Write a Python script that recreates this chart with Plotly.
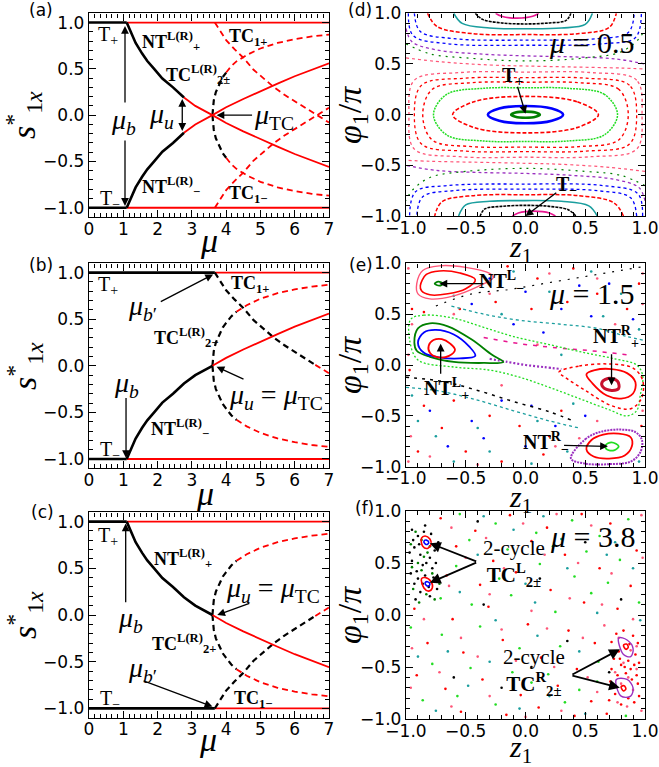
import plotly.graph_objects as go

# ---------------- bifurcation diagrams (panels a-c) ----------------
mu_T = [0.0, 1.10, 3.67, 7.0]
s_Tp = [1.0, 1.0, 1.0, 1.0]
s_Tm = [-1.0, -1.0, -1.0, -1.0]

mu_NT = [1.10, 1.17, 1.26, 1.36, 1.55, 1.70, 1.90, 2.14, 2.45, 2.77, 3.10, 3.60,
         4.00, 4.50, 5.00, 5.50, 6.00, 6.50, 7.00]
s_NTp = [1.00, 0.94, 0.87, 0.78, 0.665, 0.585, 0.50, 0.395, 0.30, 0.19, 0.10, 0.00,
         -0.085, -0.175, -0.26, -0.34, -0.42, -0.49, -0.56]
s_NTm = [-1.00, -0.94, -0.87, -0.78, -0.665, -0.585, -0.50, -0.395, -0.30, -0.19, -0.10, 0.00,
         0.085, 0.175, 0.26, 0.34, 0.42, 0.49, 0.56]

mu_TC2 = [3.60, 3.61, 3.64, 3.70, 3.80, 3.90, 4.00, 4.15, 4.30, 4.60, 5.00, 5.50, 6.00, 6.50, 7.00]
s_TC2u = [0.00, 0.08, 0.16, 0.25, 0.34, 0.41, 0.46, 0.53, 0.58, 0.65, 0.72, 0.78, 0.82, 0.85, 0.87]
s_TC2d = [0.00, -0.08, -0.16, -0.25, -0.34, -0.41, -0.46, -0.53, -0.58, -0.65, -0.72, -0.78, -0.82, -0.85, -0.87]

mu_TC1 = [3.67, 3.80, 4.00, 4.25, 4.50, 4.80, 5.10, 5.40, 5.70, 6.00, 6.30, 6.60, 7.00]
s_TC1p = [1.00, 0.92, 0.81, 0.71, 0.62, 0.49, 0.39, 0.30, 0.22, 0.15, 0.08, 0.01, -0.08]
s_TC1m = [-1.00, -0.92, -0.81, -0.71, -0.62, -0.49, -0.39, -0.30, -0.22, -0.15, -0.08, -0.01, 0.08]

mu_ticks = [0, 1, 2, 3, 4, 5, 6, 7]
s_ticks = [-1.0, -0.5, 0.0, 0.5, 1.0]
z_ticks = [-1.0, -0.5, 0.0, 0.5, 1.0]

# ---------------- panel (d): mu = 0.5 ----------------
d_g_z = [0.12, 0.084, 0.0, -0.084, -0.12, -0.084, 0.0, 0.084, 0.12]
d_g_p = [0.0, 0.021, 0.03, 0.021, 0.0, -0.021, -0.03, -0.021, 0.0]
d_b_z = [0.315, 0.22, 0.0, -0.22, -0.315, -0.22, 0.0, 0.22, 0.315]
d_b_p = [0.0, 0.06, 0.085, 0.06, 0.0, -0.06, -0.085, -0.06, 0.0]
d_r_z = [0.61, 0.43, 0.0, -0.43, -0.61, -0.43, 0.0, 0.43, 0.61]
d_r_p = [0.0, 0.128, 0.18, 0.128, 0.0, -0.128, -0.18, -0.128, 0.0]
d_l_z = [0.77, 0.66, 0.35, 0.0, -0.35, -0.66, -0.77, -0.66, -0.35, 0.0, 0.35, 0.66, 0.77]
d_l_p = [0.0, 0.20, 0.26, 0.265, 0.26, 0.20, 0.0, -0.20, -0.26, -0.265, -0.26, -0.20, 0.0]
d_r1_z = [0.86, 0.78, 0.45, 0.0, -0.45, -0.78, -0.86, -0.78, -0.45, 0.0, 0.45, 0.78, 0.86]
d_r1_p = [0.0, 0.25, 0.315, 0.32, 0.315, 0.25, 0.0, -0.25, -0.315, -0.32, -0.315, -0.25, 0.0]
d_r2_z = [0.93, 0.87, 0.50, 0.0, -0.50, -0.87, -0.93, -0.87, -0.50, 0.0, 0.50, 0.87, 0.93]
d_r2_p = [0.0, 0.29, 0.36, 0.365, 0.36, 0.29, 0.0, -0.29, -0.36, -0.365, -0.36, -0.29, 0.0]
d_r3_z = [0.975, 0.93, 0.55, 0.0, -0.55, -0.93, -0.975, -0.93, -0.55, 0.0, 0.55, 0.93, 0.975]
d_r3_p = [0.0, 0.34, 0.415, 0.42, 0.415, 0.34, 0.0, -0.34, -0.415, -0.42, -0.415, -0.34, 0.0]
# arcs around (0, +-1)
d_top_m_z = [-0.25, -0.2, -0.07, 0.06, 0.11]
d_top_m_p = [1.0, 0.97, 0.952, 0.97, 1.0]
d_top_k_z = [-0.42, -0.36, -0.2, 0.0, 0.2, 0.34, 0.38]
d_top_k_p = [1.0, 0.94, 0.905, 0.895, 0.905, 0.93, 1.0]
d_top_c_z = [-0.60, -0.53, -0.3, 0.0, 0.3, 0.5, 0.56]
d_top_c_p = [1.0, 0.90, 0.855, 0.848, 0.855, 0.89, 1.0]
d_top_r_z = [-0.82, -0.74, -0.45, 0.0, 0.45, 0.70, 0.76]
d_top_r_p = [1.0, 0.87, 0.80, 0.79, 0.80, 0.86, 1.0]
d_top_b1_z = [-0.93, -0.88, -0.6, 0.0, 0.6, 0.86, 0.91]
d_top_b1_p = [1.0, 0.82, 0.75, 0.735, 0.75, 0.81, 1.0]
d_top_b2_z = [-0.98, -0.94, -0.65, 0.0, 0.65, 0.92, 0.97]
d_top_b2_p = [1.0, 0.78, 0.70, 0.685, 0.70, 0.76, 1.0]
d_band_pu_z = [-1.0, -0.95, -0.75, -0.4, 0.0, 0.4, 0.75, 1.0]
d_band_pu_p = [0.85, 0.72, 0.64, 0.60, 0.58, 0.57, 0.55, 0.50]
d_band_gr_z = [-1.0, -0.8, -0.5, 0.0, 0.5, 0.8, 0.95, 1.0]
d_band_gr_p = [0.70, 0.60, 0.56, 0.53, 0.56, 0.62, 0.75, 0.85]
d_band_pk_z = [-1.0, -0.7, -0.3, 0.0, 0.4, 0.8, 1.0]
d_band_pk_p = [0.56, 0.52, 0.49, 0.48, 0.47, 0.46, 0.45]

# ---------------- panel (e): mu = 1.5 ----------------
e_nlm_g_z = [-0.76, -0.73, -0.69, -0.72, -0.76]
e_nlm_g_p = [0.80, 0.82, 0.80, 0.78, 0.80]
e_nlm_r_z = [-0.88, -0.83, -0.72, -0.55, -0.42, -0.50, -0.65, -0.80, -0.87, -0.88]
e_nlm_r_p = [0.78, 0.89, 0.925, 0.905, 0.84, 0.75, 0.70, 0.69, 0.73, 0.78]
e_nlm_pk_z = [-0.91, -0.86, -0.72, -0.50, -0.30, -0.27, -0.40, -0.60, -0.80, -0.90, -0.91]
e_nlm_pk_p = [0.80, 0.93, 0.975, 0.96, 0.90, 0.86, 0.77, 0.68, 0.65, 0.70, 0.80]
e_nlp_r_z = [-0.81, -0.77, -0.70, -0.63, -0.59, -0.64, -0.73, -0.80, -0.81]
e_nlp_r_p = [0.19, 0.245, 0.255, 0.21, 0.15, 0.09, 0.075, 0.12, 0.19]
e_nlp_b_z = [-0.90, -0.85, -0.75, -0.60, -0.47, -0.42, -0.55, -0.72, -0.85, -0.90]
e_nlp_b_p = [0.22, 0.32, 0.345, 0.30, 0.18, 0.09, 0.065, 0.075, 0.12, 0.22]
e_nlp_g_z = [-0.93, -0.90, -0.80, -0.65, -0.45, -0.28, -0.185, -0.35, -0.60, -0.80, -0.91, -0.93]
e_nlp_g_p = [0.22, 0.36, 0.41, 0.38, 0.25, 0.10, 0.03, 0.02, 0.03, 0.08, 0.14, 0.22]
e_lime_z = [-0.96, -0.85, -0.60, -0.35, -0.10, 0.20, 0.50, 0.75, 0.93, 0.98, 0.96, 0.93, 0.85,
            0.70, 0.45, 0.20, -0.05, -0.30, -0.60, -0.90, -0.97, -0.96]
e_lime_p = [0.45, 0.49, 0.46, 0.37, 0.28, 0.20, 0.12, 0.06, 0.0, -0.10, -0.30, -0.45, -0.50,
            -0.44, -0.33, -0.22, -0.12, -0.05, -0.02, 0.05, 0.25, 0.45]
e_nrp_dr_z = [0.64, 0.70, 0.77, 0.78, 0.72, 0.65, 0.64]
e_nrp_dr_p = [-0.17, -0.13, -0.16, -0.23, -0.25, -0.22, -0.17]
e_nrp_r_z = [0.51, 0.58, 0.72, 0.85, 0.92, 0.90, 0.80, 0.68, 0.56, 0.51]
e_nrp_r_p = [-0.09, -0.05, -0.04, -0.08, -0.17, -0.28, -0.33, -0.30, -0.18, -0.09]
e_nrp_rd_z = [0.28, 0.45, 0.70, 0.90, 0.98, 0.97, 0.88, 0.72, 0.50, 0.33, 0.28]
e_nrp_rd_p = [-0.07, -0.01, 0.01, -0.03, -0.15, -0.33, -0.43, -0.40, -0.25, -0.12, -0.07]
e_nrm_g_z = [0.67, 0.72, 0.78, 0.74, 0.68, 0.67]
e_nrm_g_p = [-0.79, -0.76, -0.80, -0.84, -0.83, -0.79]
e_nrm_r_z = [0.51, 0.55, 0.65, 0.78, 0.88, 0.89, 0.83, 0.70, 0.57, 0.51]
e_nrm_r_p = [-0.83, -0.74, -0.685, -0.675, -0.71, -0.80, -0.89, -0.92, -0.90, -0.83]
e_nrm_pu_z = [0.38, 0.50, 0.62, 0.78, 0.92, 0.975, 0.96, 0.88, 0.70, 0.50, 0.38]
e_nrm_pu_p = [-0.92, -0.73, -0.66, -0.635, -0.66, -0.74, -0.86, -0.95, -0.975, -0.97, -0.92]
e_teal1_z = [-0.62, -0.35, -0.05, 0.30, 0.60, 0.85, 1.0]
e_teal1_p = [0.58, 0.50, 0.44, 0.40, 0.36, 0.28, 0.24]
e_teal2_z = [-1.0, -0.75, -0.45, -0.10, 0.20, 0.45]
e_teal2_p = [-0.22, -0.25, -0.33, -0.45, -0.55, -0.62]
e_blk1_z = [-0.75, -0.45, -0.15, 0.15, 0.45, 0.75, 1.0]
e_blk1_p = [0.58, 0.70, 0.74, 0.80, 0.86, 0.92, 0.97]
e_blk2_z = [-1.0, -0.70, -0.40, -0.10, 0.20, 0.40]
e_blk2_p = [-0.12, -0.16, -0.25, -0.36, -0.46, -0.55]
e_pk_z = [-0.35, -0.05, 0.25, 0.55, 0.85]
e_pk_p = [0.27, 0.21, 0.17, 0.14, 0.10]
e_pu_z = [-0.30, -0.15, 0.0, 0.15, 0.30]
e_pu_p = [0.06, 0.03, 0.0, -0.02, -0.04]
e_sea_red = [(-0.95, 0.55), (-0.85, 0.52), (-0.55, 0.55), (-0.25, 0.62), (0.05, 0.55), (0.35, 0.62),
             (0.60, 0.70), (0.85, 0.55), (0.95, 0.80), (0.40, 0.95), (0.10, 0.85), (-0.15, 0.97),
             (-0.97, -0.05), (-0.85, -0.40), (-0.60, -0.35), (-0.30, -0.50), (-0.05, -0.60),
             (0.20, -0.70), (-0.70, -0.62), (-0.90, -0.85), (-0.50, -0.85), (-0.20, -0.95),
             (0.15, -0.88), (0.97, -0.60), (0.30, -0.45)]
e_sea_blue = [(-0.45, 0.60), (0.0, 0.72), (0.30, 0.55), (0.55, 0.48), (0.75, 0.62), (0.90, 0.45),
              (-0.10, 0.40), (0.15, 0.32), (-0.80, -0.45), (-0.45, -0.55), (-0.20, -0.35),
              (0.05, -0.40), (-0.65, -0.80), (-0.35, -0.72), (0.0, -0.80), (0.25, -0.60),
              (0.50, -0.50), (0.70, 0.80), (-0.30, 0.85), (0.45, 0.78)]
e_sea_teal = [(-0.90, -0.55), (-0.60, -0.95), (-0.30, -0.85), (0.05, -0.97), (0.35, -0.85),
              (-0.75, -0.70), (0.20, 0.72), (0.55, 0.92), (0.80, 0.70), (0.95, 0.35), (-0.20, 0.50),
              (-0.60, 0.68), (0.10, -0.55), (0.40, -0.38), (-0.40, -0.62), (0.65, 0.48),
              (-0.95, -0.30), (0.30, 0.10), (0.95, -0.95), (-0.10, 0.92)]
e_sea_pink = [(-0.98, 0.95), (-0.95, 0.40), (-0.98, 0.10), (-0.96, -0.70), (-0.98, -0.95),
              (-0.60, 0.50), (-0.30, 0.70), (0.20, 0.90), (0.60, 0.85), (0.98, 0.60), (0.98, 0.90),
              (0.75, 0.40), (-0.80, -0.90), (-0.40, -0.98), (0.25, -0.80), (0.45, -0.72),
              (0.98, -0.45), (0.10, 0.20), (-0.20, -0.20), (0.60, -0.55)]

# ---------------- panel (f): mu = 3.8 ----------------
f_L1_r_z = [-0.87, -0.84, -0.80, -0.79, -0.82, -0.86, -0.87]
f_L1_r_p = [0.74, 0.76, 0.73, 0.68, 0.64, 0.66, 0.74]
f_L1_b_z = [-0.85, -0.83, -0.81, -0.82, -0.84, -0.85]
f_L1_b_p = [0.71, 0.72, 0.70, 0.68, 0.685, 0.71]
f_L2_r_z = [-0.87, -0.84, -0.79, -0.78, -0.81, -0.85, -0.87]
f_L2_r_p = [0.35, 0.36, 0.32, 0.26, 0.23, 0.26, 0.35]
f_L2_b_z = [-0.84, -0.82, -0.80, -0.81, -0.83, -0.84]
f_L2_b_p = [0.31, 0.32, 0.30, 0.28, 0.285, 0.31]
f_R1_pu_z = [0.78, 0.85, 0.90, 0.88, 0.82, 0.78]
f_R1_pu_p = [-0.22, -0.24, -0.32, -0.40, -0.38, -0.22]
f_R1_r_z = [0.82, 0.845, 0.86, 0.84, 0.82]
f_R1_r_p = [-0.29, -0.28, -0.31, -0.33, -0.29]
f_R2_pu_z = [0.76, 0.85, 0.90, 0.88, 0.80, 0.76]
f_R2_pu_p = [-0.62, -0.62, -0.70, -0.78, -0.78, -0.62]
f_R2_r_z = [0.80, 0.825, 0.84, 0.82, 0.80]
f_R2_r_p = [-0.69, -0.68, -0.71, -0.73, -0.69]
f_sea_red = [(-0.71, 0.93), (-0.42, 0.81), (-0.13, 0.96), (0.18, 0.84), (0.47, 0.97), (0.71, 0.88),
             (0.93, 0.62), (-0.58, 0.66), (-0.27, 0.52), (0.05, 0.71), (0.33, 0.58), (0.62, 0.45),
             (0.88, 0.28), (-0.66, 0.38), (-0.38, 0.29), (-0.08, 0.41), (0.21, 0.24), (0.49, 0.12),
             (0.77, 0.06), (-0.93, 0.06), (-0.61, -0.04), (-0.31, 0.08), (0.02, -0.09), (0.36, -0.15),
             (0.58, -0.27), (-0.82, -0.27), (-0.52, -0.36), (-0.19, -0.24), (0.13, -0.41), (0.43, -0.52),
             (-0.91, -0.58), (-0.67, -0.71), (-0.36, -0.62), (-0.04, -0.77), (0.27, -0.68), (0.55, -0.83),
             (-0.54, -0.93), (-0.16, -0.96), (0.11, -0.89), (0.41, -0.97), (0.68, -0.95)]
f_sea_green = [(-0.55, 0.97), (-0.25, 0.88), (0.09, 0.79), (0.39, 0.91), (0.62, 0.76), (0.86, 0.92),
               (-0.47, 0.72), (-0.15, 0.63), (0.23, 0.66), (0.51, 0.61), (0.79, 0.53), (-0.58, 0.47),
               (-0.22, 0.35), (0.12, 0.49), (0.41, 0.37), (0.69, 0.31), (0.95, 0.12), (-0.71, 0.16),
               (-0.45, 0.10), (-0.12, 0.19), (0.25, 0.03), (0.55, 0.21), (-0.96, -0.12), (-0.70, -0.19),
               (-0.38, -0.11), (-0.05, -0.32), (0.29, -0.30), (0.61, -0.45), (-0.78, -0.47),
               (-0.46, -0.51), (-0.11, -0.55), (0.19, -0.57), (0.45, -0.72), (-0.86, -0.82),
               (-0.57, -0.78), (-0.25, -0.86), (0.05, -0.65), (0.33, -0.84), (0.60, -0.64), (0.84, -0.97)]
f_sea_teal = [(-0.35, 0.95), (0.30, 0.73), (0.75, 0.70), (-0.40, 0.58), (0.00, 0.30), (0.60, 0.02),
              (-0.55, 0.22), (-0.25, -0.05), (0.10, -0.20), (0.45, -0.35), (-0.65, -0.35),
              (-0.30, -0.45), (0.20, -0.78), (-0.75, -0.92), (-0.05, -0.90), (0.50, -0.95),
              (0.90, 0.45), (0.15, 0.95), (-0.90, -0.40), (0.35, 0.45), (-0.10, 0.82), (0.68, 0.58),
              (-0.48, -0.68), (0.08, 0.12), (0.96, -0.05)]
f_sea_pink = [(-0.62, 0.84), (-0.33, 0.74), (-0.02, 0.88), (0.26, 0.97), (0.55, 0.86), (0.82, 0.78),
              (0.97, 0.96), (-0.50, 0.55), (-0.18, 0.45), (0.16, 0.58), (0.44, 0.50), (0.72, 0.40),
              (0.98, 0.55), (-0.64, 0.28), (-0.30, 0.20), (0.05, 0.04), (0.37, 0.16), (0.64, 0.10),
              (0.90, -0.04), (-0.85, -0.04), (-0.54, -0.22), (-0.20, -0.14), (0.18, -0.13),
              (0.48, -0.22), (0.66, -0.10), (-0.95, -0.32), (-0.72, -0.55), (-0.40, -0.40),
              (-0.08, -0.44), (0.24, -0.50), (0.52, -0.60), (-0.96, -0.70), (-0.62, -0.88),
              (-0.30, -0.78), (0.00, -0.98), (0.30, -0.92), (0.60, -0.74), (0.97, -0.92)]
f_sea_black = [(-0.40, 0.90), (0.12, 0.35), (0.50, 0.70), (-0.20, -0.70), (0.35, -0.25),
               (-0.60, -0.60), (0.70, -0.55), (0.05, -0.50), (-0.35, 0.10), (0.80, 0.15)]
f_cloud_black = [(-0.95, 0.82), (-0.90, 0.76), (-0.93, 0.65), (-0.88, 0.58), (-0.95, 0.52),
                 (-0.86, 0.48), (-0.91, 0.42), (-0.80, 0.55), (-0.76, 0.62), (-0.78, 0.45),
                 (-0.84, 0.38), (-0.93, 0.30), (-0.88, 0.22), (-0.80, 0.18), (-0.74, 0.25),
                 (-0.77, 0.36), (-0.96, 0.40), (-0.92, 0.15), (-0.85, 0.80), (-0.79, 0.78),
                 (-0.73, 0.70), (-0.89, 0.68), (-0.83, 0.50), (-0.75, 0.50), (-0.97, 0.60),
                 (-0.86, 0.30), (-0.81, 0.27), (-0.90, 0.35), (-0.84, 0.86), (-0.94, 0.72)]
f_cloud_green = [(-0.92, 0.80), (-0.87, 0.72), (-0.96, 0.68), (-0.82, 0.60), (-0.90, 0.50),
                 (-0.78, 0.40), (-0.87, 0.43), (-0.94, 0.25), (-0.83, 0.20), (-0.76, 0.15),
                 (-0.72, 0.30), (-0.89, 0.12), (-0.80, 0.66), (-0.95, 0.46), (-0.85, 0.56)]
f_cloud_red = [(0.76, -0.18), (0.82, -0.15), (0.90, -0.20), (0.94, -0.27), (0.72, -0.26), (0.78, -0.35),
               (0.92, -0.38), (0.86, -0.44), (0.74, -0.42), (0.80, -0.48), (0.95, -0.46), (0.88, -0.52),
               (0.72, -0.52), (0.84, -0.56), (0.93, -0.58), (0.77, -0.58), (0.89, -0.62), (0.71, -0.64),
               (0.94, -0.66), (0.86, -0.80), (0.75, -0.76), (0.91, -0.84), (0.80, -0.86), (0.70, -0.82),
               (0.95, -0.78), (0.83, -0.50), (0.79, -0.42), (0.91, -0.48), (0.87, -0.28), (0.73, -0.68)]
f_cloud_pink = [(0.78, -0.22), (0.88, -0.34), (0.82, -0.46), (0.93, -0.52), (0.75, -0.55), (0.86, -0.60),
                (0.80, -0.66), (0.90, -0.72), (0.77, -0.84), (0.93, -0.30), (0.72, -0.35), (0.85, -0.88)]

# ---------------- styling ----------------
RED = "#ff0000"
BLK = "#000000"
LIME = "#22dd22"
DGRN = "#008000"
BLUE = "#0000ff"
TEAL = "#1a9e9e"
PURP = "#9b30c0"
MAG = "#e8158f"
PINK = "#ff5577"
SERIF = "Liberation Serif"
SANS = "DejaVu Sans"

fig = go.Figure()


def axn(i):
    return "" if i == 1 else str(i)


def line(i, x, y, color, width=2.0, dash=None, spline=False):
    fig.add_trace(go.Scatter(
        x=x, y=y, mode="lines",
        line=dict(color=color, width=width, dash=dash, shape="spline" if spline else "linear"),
        xaxis="x" + axn(i), yaxis="y" + axn(i), hoverinfo="skip", showlegend=False))


def dots(i, pts, color, size=2.6):
    fig.add_trace(go.Scatter(
        x=[p[0] for p in pts], y=[p[1] for p in pts], mode="markers",
        marker=dict(color=color, size=size, line=dict(width=0)),
        xaxis="x" + axn(i), yaxis="y" + axn(i), hoverinfo="skip", showlegend=False))


DASH = "6px,4px"
LW_R = 1.8
LW_K = 2.6


def bif(i, sl_Tp, sl_Tm, nt_p, nt_m, tc2_split, tc1_p, tc1_m):
    k = sl_Tp
    line(i, mu_T[k - 1:], s_Tp[k - 1:], RED, LW_R)
    line(i, mu_T[:k], s_Tp[:k], BLK, LW_K)
    k = sl_Tm
    line(i, mu_T[k - 1:], s_Tm[k - 1:], RED, LW_R)
    line(i, mu_T[:k], s_Tm[:k], BLK, LW_K)
    for flag, ys in ((tc1_p, s_TC1p), (tc1_m, s_TC1m)):
        if flag is None:
            continue
        if flag == 0:
            line(i, mu_TC1, ys, RED, LW_R, DASH)
        else:
            line(i, mu_TC1[flag:], ys[flag:], RED, LW_R, DASH)
            line(i, mu_TC1[:flag + 1], ys[:flag + 1], BLK, LW_K - 0.4, DASH)
    for ys in (s_TC2u, s_TC2d):
        line(i, mu_TC2[tc2_split:], ys[tc2_split:], RED, LW_R, DASH)
        line(i, mu_TC2[:tc2_split + 1], ys[:tc2_split + 1], BLK, LW_K - 0.4, DASH)
    for split, ys in ((nt_p, s_NTp), (nt_m, s_NTm)):
        if split is None:
            continue
        line(i, mu_NT[split:], ys[split:], RED, LW_R)
        line(i, mu_NT[:split + 1], ys[:split + 1], BLK, LW_K)


bif(1, 2, 2, 9, 9, 6, 0, 0)
bif(2, 3, 2, None, 11, 8, 11, None)
bif(3, 2, 3, 11, None, 8, None, 11)

# panel d
for z, p, c, w, ds in [
    (d_r3_z, d_r3_p, PINK, 1.3, "dot"), (d_r2_z, d_r2_p, RED, 1.3, "dot"),
    (d_r1_z, d_r1_p, RED, 1.4, "3px,3px"), (d_l_z, d_l_p, LIME, 1.5, "2px,1px"),
    (d_r_z, d_r_p, RED, 1.6, "4px,2px"), (d_b_z, d_b_p, BLUE, 2.6, None),
    (d_g_z, d_g_p, DGRN, 2.6, None)]:
    line(4, z, p, c, w, ds, spline=True)
for z, p, c, w, ds in [
    (d_top_m_z, d_top_m_p, MAG, 1.6, None), (d_top_k_z, d_top_k_p, BLK, 1.6, "3px,1px"),
    (d_top_c_z, d_top_c_p, TEAL, 1.6, None), (d_top_r_z, d_top_r_p, RED, 1.5, "4px,2px"),
    (d_top_b1_z, d_top_b1_p, BLUE, 1.3, "dot"), (d_top_b2_z, d_top_b2_p, BLUE, 1.3, "dot"),
    (d_band_pu_z, d_band_pu_p, PURP, 1.3, "dot"), (d_band_gr_z, d_band_gr_p, DGRN, 1.2, "2px,5px"),
    (d_band_pk_z, d_band_pk_p, PINK, 1.2, "dot")]:
    line(4, z, p, c, w, ds, spline=True)
    line(4, [-v for v in z], [-v for v in p], c, w, ds, spline=True)

# panel e
dots(5, e_sea_red, RED)
dots(5, e_sea_blue, BLUE)
dots(5, e_sea_teal, TEAL)
dots(5, e_sea_pink, PINK)
for z, p, c, w, ds in [
    (e_teal1_z, e_teal1_p, TEAL, 1.3, "dot"), (e_teal2_z, e_teal2_p, TEAL, 1.3, "dot"),
    (e_blk1_z, e_blk1_p, BLK, 1.2, "2px,7px"), (e_blk2_z, e_blk2_p, BLK, 1.5, "3px,5px"),
    (e_pk_z, e_pk_p, MAG, 1.5, "4px,6px"), (e_pu_z, e_pu_p, PURP, 2.2, "2px,2px"),
    (e_lime_z, e_lime_p, LIME, 1.3, "2px,2px"),
    (e_nlm_pk_z, e_nlm_pk_p, PINK, 1.4, None), (e_nlm_r_z, e_nlm_r_p, RED, 1.6, None),
    (e_nlm_g_z, e_nlm_g_p, DGRN, 1.8, None),
    (e_nlp_g_z, e_nlp_g_p, DGRN, 1.8, None), (e_nlp_b_z, e_nlp_b_p, BLUE, 1.8, None),
    (e_nlp_r_z, e_nlp_r_p, RED, 1.8, None),
    (e_nrp_rd_z, e_nrp_rd_p, RED, 1.5, "dot"), (e_nrp_r_z, e_nrp_r_p, RED, 1.8, None),
    (e_nrp_dr_z, e_nrp_dr_p, "#c8102e", 3.0, None),
    (e_nrm_pu_z, e_nrm_pu_p, PURP, 2.0, "2px,1px"), (e_nrm_r_z, e_nrm_r_p, RED, 1.8, None),
    (e_nrm_g_z, e_nrm_g_p, LIME, 1.8, None)]:
    line(5, z, p, c, w, ds, spline=True)

# panel f
dots(6, f_sea_red, RED)
dots(6, f_sea_green, LIME)
dots(6, f_sea_teal, TEAL)
dots(6, f_sea_pink, PINK)
dots(6, f_sea_black, BLK)
dots(6, f_cloud_black, BLK)
dots(6, f_cloud_green, DGRN)
dots(6, f_cloud_red, RED)
dots(6, f_cloud_pink, PINK)
for z, p, c, w in [
    (f_L1_r_z, f_L1_r_p, RED, 1.6), (f_L1_b_z, f_L1_b_p, BLUE, 1.6),
    (f_L2_r_z, f_L2_r_p, RED, 1.6), (f_L2_b_z, f_L2_b_p, BLUE, 1.6),
    (f_R1_pu_z, f_R1_pu_p, PURP, 1.4), (f_R1_r_z, f_R1_r_p, RED, 1.6),
    (f_R2_pu_z, f_R2_pu_p, PURP, 1.4), (f_R2_r_z, f_R2_r_p, RED, 1.6)]:
    line(6, z, p, c, w, None, spline=True)

# ---------------- axes ----------------
LX = [89 / 659, 329 / 659]
RX = [406 / 659, 645 / 659]
doms = {
    1: (LX, [1 - 217 / 767, 1 - 13.3 / 767]),
    2: (LX, [1 - 468.3 / 767, 1 - 263.3 / 767]),
    3: (LX, [1 - 717.7 / 767, 1 - 512.3 / 767]),
    4: (RX, [1 - 216 / 767, 1 - 13.3 / 767]),
    5: (RX, [1 - 466.7 / 767, 1 - 263.3 / 767]),
    6: (RX, [1 - 719 / 767, 1 - 511 / 767]),
}
tickfont = dict(family=SANS, size=17, color="black")
layout = dict(width=659, height=767, margin=dict(l=0, r=0, t=0, b=0, pad=0),
              paper_bgcolor="white", plot_bgcolor="white", showlegend=False)
for i, (xd, yd) in doms.items():
    left = i <= 3
    common = dict(showline=True, linecolor="black", linewidth=1.4, mirror="ticks",
                  ticks="inside", ticklen=7, tickwidth=1.2, tickcolor="black", automargin=False,
                  showgrid=False, zeroline=False, tickfont=tickfont)
    mn = dict(ticks="inside", ticklen=4, tickcolor="black", tickwidth=1, showgrid=False)
    xa = dict(common, domain=xd, anchor="y" + axn(i), ticklabelstandoff=-4)
    ya = dict(common, domain=yd, anchor="x" + axn(i))
    if left:
        xa.update(range=[0, 7], tickvals=mu_ticks, ticktext=[str(v) for v in mu_ticks],
                  minor=dict(mn, dtick=1 / 6, tick0=0))
        ya.update(range=[-1.1, 1.1], tickvals=s_ticks, tickformat=".1f",
                  minor=dict(mn, dtick=0.1, tick0=0))
    else:
        xa.update(range=[-1, 1], tickvals=z_ticks, tickformat=".1f",
                  minor=dict(mn, dtick=0.1, tick0=0))
        ya.update(range=[-1, 1], tickvals=z_ticks, tickformat=".1f",
                  minor=dict(mn, dtick=0.1, tick0=0))
    layout["xaxis" + axn(i)] = xa
    layout["yaxis" + axn(i)] = ya
fig.update_layout(**layout)

# ---------------- annotations ----------------
anns = []


def txt(i, x, y, text, size=20, bg=None):
    d = dict(x=x, y=y, xref="x" + axn(i), yref="y" + axn(i), text=text, showarrow=False,
             font=dict(family=SERIF, size=size, color="black"), xanchor="center", yanchor="middle")
    if bg:
        d["bgcolor"] = bg
    anns.append(d)


def arr(i, x0, y0, x1, y1, both=False, w=1.3):
    d = dict(x=x1, y=y1, ax=x0, ay=y0, xref="x" + axn(i), yref="y" + axn(i),
             axref="x" + axn(i), ayref="y" + axn(i), text="", showarrow=True,
             arrowhead=2, arrowsize=1.2, arrowwidth=w, arrowcolor="black", standoff=0)
    if both:
        d.update(arrowside="end+start", startarrowhead=2, startarrowsize=1.2, startstandoff=0)
    anns.append(d)


def ptxt(x, y, text, size=17, ang=0, fam=SANS, pad=1):
    anns.append(dict(x=x, y=y, xref="paper", yref="paper", text=text, showarrow=False,
                     textangle=ang, font=dict(family=fam, size=size, color="black"),
                     xanchor="center", yanchor="middle", borderpad=pad))


MU = "<i>μ</i>"
# panel a
txt(1, 0.55, 0.86, "T<sub>+</sub>")
txt(1, 0.6, -0.91, "T<sub>−</sub>")
txt(1, 2.4, 0.79, "<b>NT<sup>L(R)</sup><sub>+</sub></b>", 18)
txt(1, 2.4, -0.77, "<b>NT<sup>L(R)</sup><sub>−</sub></b>", 18)
txt(1, 3.18, 0.44, "<b>TC<sup>L(R)</sup><sub>2±</sub></b>", 18)
txt(1, 4.65, 0.84, "<b>TC<sub>1+</sub></b>", 18)
txt(1, 4.65, -0.86, "<b>TC<sub>1−</sub></b>", 18)
arr(1, 1.05, 0.98, 1.05, -0.98, both=True)
txt(1, 1.02, -0.07, MU + "<sub><i>b</i></sub>", 28, bg="white")
arr(1, 2.72, 0.19, 2.72, -0.17, both=True)
txt(1, 2.1, 0.0, MU + "<sub><i>u</i></sub>", 28)
arr(1, 4.8, 0.0, 3.72, 0.0)
txt(1, 5.4, -0.02, MU + "<sub>TC</sub>", 28)
# panel b
txt(2, 0.55, 0.86, "T<sub>+</sub>")
txt(2, 0.6, -0.91, "T<sub>−</sub>")
txt(2, 1.55, 0.63, MU + "<sub><i>b</i>′</sub>", 28)
arr(2, 2.05, 0.68, 3.62, 0.98)
txt(2, 4.7, 0.87, "<b>TC<sub>1+</sub></b>", 18)
txt(2, 2.82, 0.30, "<b>TC<sup>L(R)</sup><sub>2−</sub></b>", 18)
txt(2, 1.1, -0.2, MU + "<sub><i>b</i></sub>", 28)
arr(2, 1.08, -0.33, 1.08, -0.99)
txt(2, 2.65, -0.67, "<b>NT<sup>L(R)</sup><sub>−</sub></b>", 18)
txt(2, 5.45, -0.33, MU + "<sub><i>u</i></sub> = " + MU + "<sub>TC</sub>", 28)
arr(2, 4.55, -0.15, 3.72, -0.01)
# panel c
txt(3, 0.55, 0.84, "T<sub>+</sub>")
txt(3, 0.6, -0.91, "T<sub>−</sub>")
txt(3, 2.75, 0.60, "<b>NT<sup>L(R)</sup><sub>+</sub></b>", 18)
txt(3, 1.21, -0.05, MU + "<sub><i>b</i></sub>", 28)
arr(3, 1.07, 0.12, 1.07, 0.98)
txt(3, 5.37, 0.27, MU + "<sub><i>u</i></sub> = " + MU + "<sub>TC</sub>", 28)
arr(3, 4.72, 0.13, 3.74, 0.0)
txt(3, 2.77, -0.31, "<b>TC<sup>L(R)</sup><sub>2+</sub></b>", 18)
txt(3, 1.57, -0.58, MU + "<sub><i>b</i>′</sub>", 28)
arr(3, 1.55, -0.70, 3.6, -0.98)
txt(3, 4.8, -0.9, "<b>TC<sub>1−</sub></b>", 18)
# panel d
txt(4, 0.556, 0.707, MU + " = 0.5", 30)
txt(4, -0.11, 0.38, "<b>T<sub>+</sub></b>", 20)
arr(4, -0.07, 0.29, 0.0, 0.01)
txt(4, 0.34, -0.70, "<b>T<sub>−</sub></b>", 20)
arr(4, 0.27, -0.76, 0.0, -1.0)
# panel e
txt(5, 0.554, 0.70, MU + " = 1.5", 30)
txt(5, -0.2, 0.82, "<b>NT<sup>L</sup><sub>−</sub></b>", 20)
arr(5, -0.34, 0.80, -0.72, 0.80)
txt(5, -0.66, -0.24, "<b>NT<sup>L</sup><sub>+</sub></b>", 20)
arr(5, -0.71, -0.10, -0.71, 0.21)
txt(5, 0.76, 0.28, "<b>NT<sup>R</sup><sub>+</sub></b>", 20)
arr(5, 0.72, 0.12, 0.72, -0.20)
txt(5, 0.17, -0.77, "<b>NT<sup>R</sup><sub>−</sub></b>", 20)
arr(5, 0.31, -0.79, 0.69, -0.80)
# panel f
txt(6, 0.563, 0.753, MU + " = 3.8", 30)
txt(6, -0.10, 0.50, "2-cycle<br><b>TC<sup>L</sup><sub>2±</sub></b>", 21)
arr(6, -0.40, 0.51, -0.80, 0.69, w=1.8)
arr(6, -0.40, 0.51, -0.80, 0.31, w=1.8)
txt(6, 0.07, -0.545, "2-cycle<br><b>TC<sup>R</sup><sub>2±</sub></b>", 21)
arr(6, 0.38, -0.58, 0.79, -0.33, w=1.8)
arr(6, 0.38, -0.58, 0.79, -0.70, w=1.8)

# panel letters
ptxt(41 / 659, 1 - 10 / 767, "(a)")
ptxt(41 / 659, 1 - 265 / 767, "(b)")
ptxt(42 / 659, 1 - 512 / 767, "(c)")
ptxt(360 / 659, 1 - 10 / 767, "(d)")
ptxt(361 / 659, 1 - 265 / 767, "(e)")
ptxt(364 / 659, 1 - 508 / 767, "(f)")

# axis titles
S_T = "<i>s</i><sup>*</sup><sub>1<i>x</i></sub>"
P_T = "<i>φ</i><sub>1</sub>/<i>π</i>"
Z_T = "<i>z</i><sub>1</sub>"
for yc in (115, 366, 615):
    ptxt(24 / 659, 1 - yc / 767, S_T, 34, -90, SERIF)
for yc in (115, 365, 615):
    ptxt(352 / 659, 1 - yc / 767, P_T, 34, -90, SERIF)
for xc, yc in ((209, 240), (205, 493), (208, 739)):
    ptxt(xc / 659, 1 - yc / 767, MU, 34, 0, SERIF)
for yc in (249, 499, 749):
    ptxt(520 / 659, 1 - yc / 767, Z_T, 30, 0, SERIF, pad=0)

fig.update_layout(annotations=anns)
fig.write_html("out.html", config={"displayModeBar": False},
               post_script="document.body.style.margin='0';document.body.style.overflow='hidden';")
